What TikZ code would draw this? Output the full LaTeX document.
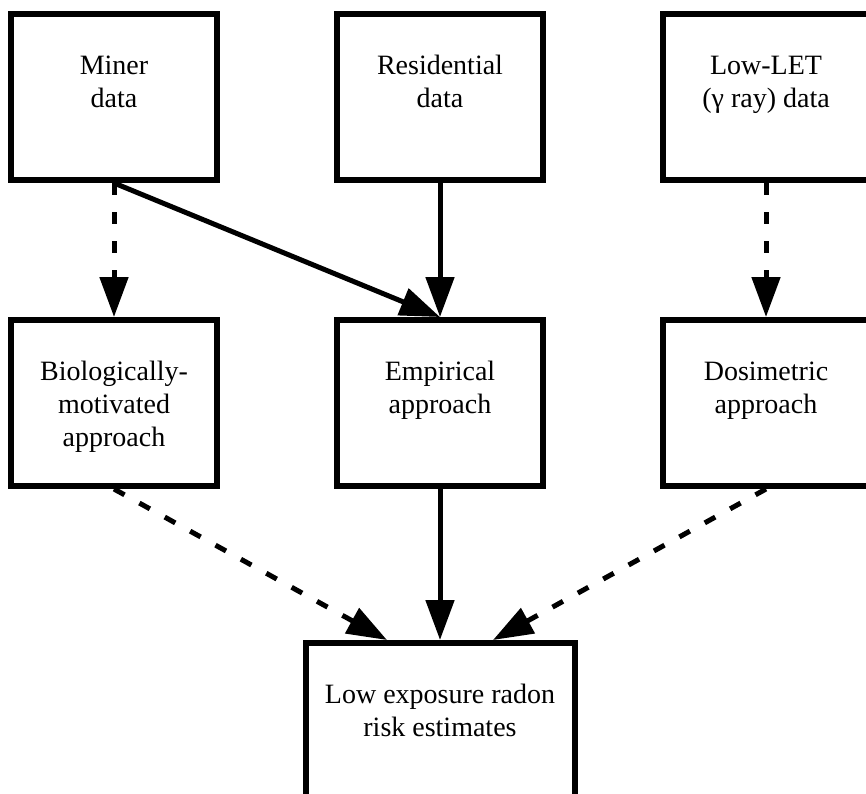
\documentclass[tikz,border=0pt]{standalone}
\usepackage{fontspec}
\setmainfont{Liberation Serif}
\usetikzlibrary{arrows.meta, positioning}

% box text placed near the top of a fixed-size frame
\newcommand{\boxtext}[2]{\begin{minipage}[c][166pt][t]{#1}\centering\vspace*{37pt}\strut #2\end{minipage}}

\begin{document}
\begin{tikzpicture}[
        node distance=134pt and 114pt,
        box/.style={draw, line width=6pt, inner sep=0pt, font=\fontsize{28}{33}\selectfont},
        arrow/.style={-{Triangle[length=40pt, width=28pt]}, line width=5pt},
        dasharrow/.style={arrow, dash pattern=on 12pt off 17pt}
    ]
        \useasboundingbox (0,0) rectangle (866pt,-793pt);

        % Data sources
        \node[box] at (114pt,-97pt) (miner) {\boxtext{206pt}{Miner\\data}};
        \node[box, right=of miner] (res) {\boxtext{206pt}{Residential\\data}};
        \node[box, right=of res] (low) {\boxtext{206pt}{Low-LET\\(γ ray) data}};

        % Approaches
        \node[box, below=of miner] (bio) {\boxtext{206pt}{Biologically-\\motivated\\approach}};
        \node[box, below=of res] (emp) {\boxtext{206pt}{Empirical\\approach}};
        \node[box, below=of low] (dos) {\boxtext{206pt}{Dosimetric\\approach}};

        % Result
        \node[box, below=151pt of emp] (risk) {\boxtext{269pt}{Low exposure radon\\risk estimates}};

        % Arrows
        \draw[dasharrow] (miner) -- (bio);
        \draw[arrow] (miner.south) -- (emp.north);
        \draw[arrow] (res) -- (emp);
        \draw[dasharrow] (low) -- (dos);
        \draw[dasharrow] (bio.south) -- ([xshift=-53pt]risk.north);
        \draw[arrow] (emp) -- (risk);
        \draw[dasharrow] (dos.south) -- ([xshift=53pt]risk.north);
    \end{tikzpicture}
\end{document}
